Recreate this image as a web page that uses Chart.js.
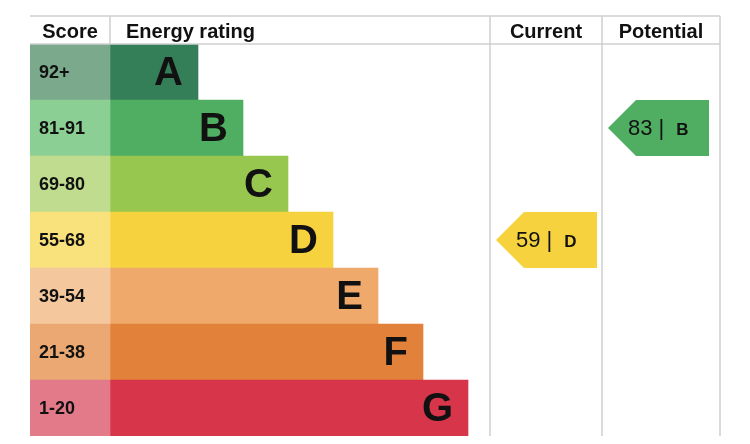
<!DOCTYPE html>
<html><head><meta charset="utf-8">
<script src="https://cdn.jsdelivr.net/npm/chart.js@4"></script>
<style>html,body{margin:0;background:#fff}#c{display:block}</style>
</head><body>
<div style="width:750px;height:444px"><canvas id="c"></canvas></div>
<script>
const bands = ['A','B','C','D','E','F','G']
const scores = ['92+','81-91','69-80','55-68','39-54','21-38','1-20']
const barEnds = [168,213,258,303,348,393,438]
const bandColors = ['#347e58','#4fae62','#98c74f','#f6d23f','#efaa6b','#e2823a','#d7354a']
const scoreColors = ['#7aa98b','#8ccf94','#bfdc8f','#f9e27c','#f4c89c','#eba872','#e27a8a']
const current = { value: 59, band: 'D' }
const potential = { value: 83, band: 'B' }

const FONT = '"Liberation Sans", Arial, sans-serif'

const epcPlugin = {
  id: 'epc',
  afterDraw(ch){
    const ctx = ch.ctx, x = ch.scales.x, y = ch.scales.y, a = ch.chartArea
    const px = v => x.getPixelForValue(v)
    const top = 16
    ctx.save()
    // grid
    ctx.strokeStyle = '#cfcfcf'; ctx.lineWidth = 1.5
    ctx.beginPath()
    ctx.moveTo(a.left, top); ctx.lineTo(a.right, top)
    ctx.moveTo(a.left, a.top); ctx.lineTo(a.right, a.top)
    ctx.moveTo(px(80), top); ctx.lineTo(px(80), a.top)
    ctx.moveTo(px(460), top); ctx.lineTo(px(460), a.bottom)
    ctx.moveTo(px(572), top); ctx.lineTo(px(572), a.bottom)
    ctx.moveTo(a.right, top); ctx.lineTo(a.right, a.bottom)
    ctx.stroke()
    // headers
    ctx.fillStyle = '#111'; ctx.font = 'bold 20px '+FONT; ctx.textBaseline = 'middle'
    const hy = (top + a.top)/2 + 2
    ctx.textAlign = 'center'
    ctx.fillText('Score', px(40), hy)
    ctx.textAlign = 'left'
    ctx.fillText('Energy rating', px(96), hy)
    ctx.textAlign = 'center'
    ctx.fillText('Current', px(516), hy)
    ctx.fillText('Potential', px(631), hy)
    // row labels
    bands.forEach((b,i)=>{
      const cy = y.getPixelForValue(i)
      ctx.textAlign = 'left'; ctx.font = 'bold 18px '+FONT; ctx.fillStyle = '#111'
      ctx.fillText(scores[i], px(9), cy+1)
      ctx.textAlign = 'right'; ctx.font = 'bold 40px '+FONT
      ctx.fillText(b, px(barEnds[i]-15), cy+2)
    })
    // arrows
    const arrow = (r, x0, x1, x2) => {
      const i = bands.indexOf(r.band), cy = y.getPixelForValue(i), h = y.getPixelForValue(1)-y.getPixelForValue(0)
      ctx.fillStyle = bandColors[i]
      ctx.beginPath()
      ctx.moveTo(px(x0), cy); ctx.lineTo(px(x1), cy-h/2); ctx.lineTo(px(x2), cy-h/2)
      ctx.lineTo(px(x2), cy+h/2); ctx.lineTo(px(x1), cy+h/2); ctx.closePath(); ctx.fill()
      ctx.fillStyle = '#111'; ctx.textAlign = 'left'
      ctx.font = '22px '+FONT
      const t = r.value + ' |'
      const sx = px(x1)-8
      ctx.fillText(t, sx, cy+1)
      const w = ctx.measureText(t).width
      ctx.font = 'bold 17px '+FONT
      ctx.fillText(r.band, sx + w + 12, cy+2)
    }
    arrow(current, 466, 494, 567)
    arrow(potential, 578, 606, 679)
    ctx.restore()
  }
}

new Chart(document.getElementById('c'), {
  type: 'bar',
  data: {
    labels: bands,
    datasets: [
      { data: bands.map(()=>[0,80]), backgroundColor: scoreColors },
      { data: barEnds.map(v=>[80,v]), backgroundColor: bandColors }
    ]
  },
  options: {
    indexAxis: 'y', responsive: true, maintainAspectRatio: false, animation: false,
    layout: { padding: { left: 30, right: 30, top: 44, bottom: 8 } },
    datasets: { bar: { barPercentage: 1, categoryPercentage: 1, grouped: false, borderWidth: 0 } },
    scales: {
      x: { min: 0, max: 690, display: false },
      y: { display: false }
    },
    plugins: { legend: { display: false }, tooltip: { enabled: false } }
  },
  plugins: [epcPlugin]
})
</script>
</body></html>
